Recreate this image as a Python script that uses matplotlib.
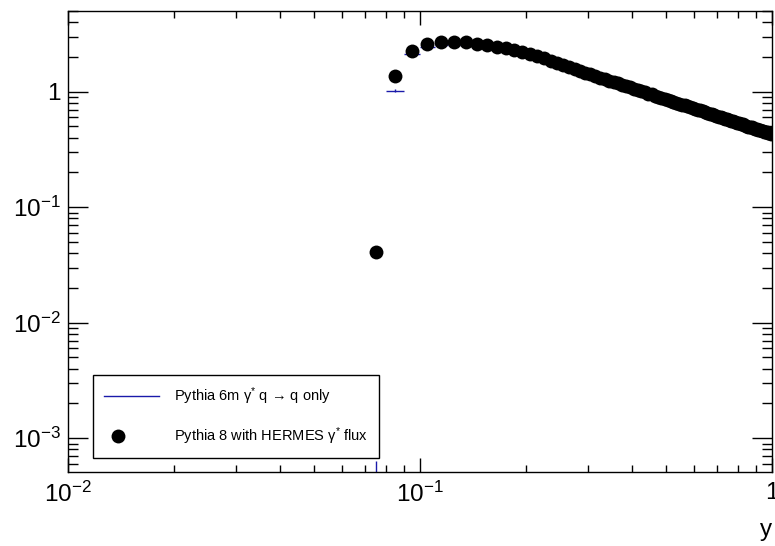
import numpy as np
import matplotlib
matplotlib.use("Agg")
import matplotlib.pyplot as plt
from matplotlib.ticker import LogLocator, FuncFormatter, NullFormatter
from matplotlib.lines import Line2D
from matplotlib.legend_handler import HandlerLine2D

plt.rcParams['font.family'] = ['Liberation Sans', 'DejaVu Sans']
plt.rcParams['mathtext.fontset'] = 'custom'
plt.rcParams['mathtext.rm'] = 'Liberation Sans'
plt.rcParams['mathtext.it'] = 'Liberation Sans:italic'
plt.rcParams['mathtext.sf'] = 'Liberation Sans'

# bin centres (bin width 0.01)
y_centers = [0.075, 0.085, 0.095, 0.105, 0.115, 0.125, 0.135, 0.145, 0.155, 0.165,
             0.175, 0.185, 0.195, 0.205, 0.215, 0.225, 0.235, 0.245, 0.255, 0.265,
             0.275, 0.285, 0.295, 0.305, 0.315, 0.325, 0.335, 0.345, 0.355, 0.365,
             0.375, 0.385, 0.395, 0.405, 0.415, 0.425, 0.435, 0.445, 0.455, 0.465,
             0.475, 0.485, 0.495, 0.505, 0.515, 0.525, 0.535, 0.545, 0.555, 0.565,
             0.575, 0.585, 0.595, 0.605, 0.615, 0.625, 0.635, 0.645, 0.655, 0.665,
             0.675, 0.685, 0.695, 0.705, 0.715, 0.725, 0.735, 0.745, 0.755, 0.765,
             0.775, 0.785, 0.795, 0.805, 0.815, 0.825, 0.835, 0.845, 0.855, 0.865,
             0.875, 0.885, 0.895, 0.905, 0.915, 0.925, 0.935, 0.945, 0.955, 0.965,
             0.975, 0.985, 0.995]
bin_half_width = 0.005

# Pythia 8 with HERMES gamma* flux (black points)
pythia8 = [0.041, 1.38, 2.24, 2.59, 2.70, 2.71, 2.68, 2.61, 2.52, 2.46,
           2.37, 2.28, 2.21, 2.12, 2.03, 1.95, 1.86, 1.79, 1.71, 1.64,
           1.57, 1.51, 1.46, 1.42, 1.37, 1.32, 1.29, 1.25, 1.21, 1.18,
           1.15, 1.12, 1.09, 1.06, 1.04, 1.01, 0.99, 0.965, 0.95, 0.925,
           0.905, 0.885, 0.87, 0.85, 0.835, 0.82, 0.805, 0.79, 0.775, 0.76,
           0.748, 0.735, 0.723, 0.71, 0.70, 0.688, 0.677, 0.667, 0.656, 0.647,
           0.637, 0.628, 0.615, 0.61, 0.601, 0.593, 0.585, 0.577, 0.57, 0.562,
           0.555, 0.548, 0.541, 0.538, 0.528, 0.521, 0.515, 0.509, 0.498, 0.497,
           0.491, 0.486, 0.48, 0.475, 0.47, 0.465, 0.46, 0.455, 0.45, 0.446,
           0.441, 0.437, 0.432]

# Pythia 6m gamma* q -> q only (blue histogram)
pythia6 = [0.0003, 1.02, 2.12, 2.44, 2.56, 2.58, 2.56, 2.50, 2.43, 2.37,
           2.29, 2.21, 2.14, 2.05, 1.96, 1.88, 1.80, 1.73, 1.65, 1.58,
           1.52, 1.46, 1.41, 1.37, 1.32, 1.28, 1.24, 1.21, 1.17, 1.14,
           1.11, 1.08, 1.05, 1.02, 1.00, 0.975, 0.955, 0.93, 0.915, 0.893,
           0.873, 0.854, 0.84, 0.82, 0.806, 0.791, 0.777, 0.762, 0.748, 0.733,
           0.722, 0.709, 0.698, 0.685, 0.675, 0.664, 0.653, 0.644, 0.633, 0.624,
           0.615, 0.606, 0.597, 0.589, 0.58, 0.572, 0.565, 0.557, 0.55, 0.542,
           0.536, 0.529, 0.522, 0.515, 0.51, 0.503, 0.497, 0.491, 0.485, 0.48,
           0.474, 0.469, 0.463, 0.458, 0.454, 0.449, 0.444, 0.439, 0.434, 0.43,
           0.426, 0.417, 0.405]
pythia6_rel_err = 0.025
first_bin_err_low = 0.00029
first_bin_err_high = 0.00034

legend_labels = ["Pythia 6m γ$^{*}$ q → q only",
                 "Pythia 8 with HERMES γ$^{*}$ flux"]
x_label = "y"

W, H = 775, 546
fig = plt.figure(figsize=(W / 100, H / 100), dpi=100)
ax = fig.add_axes([68 / W, (H - 472) / H, (772 - 68) / W, (472 - 11) / H])

x = np.array(y_centers)
b = np.array(pythia6)
err_lo = b * pythia6_rel_err
err_hi = b * pythia6_rel_err
err_lo[0] = first_bin_err_low
err_hi[0] = first_bin_err_high

blue = '#1a1aaa'
ax.errorbar(x, b, xerr=bin_half_width, yerr=[err_lo, err_hi], fmt='none',
            ecolor=blue, elinewidth=1.0, capsize=0, zorder=2)
ax.plot(x, pythia8, 'o', color='black', markersize=10, markeredgewidth=0, zorder=3)

ax.set_xscale('log')
ax.set_yscale('log')
ax.set_xlim(0.01, 1.0)
ax.set_ylim(5.1e-4, 5.0)


def fmt(v, pos):
    e = int(round(np.log10(v)))
    if e == 0:
        return "1"
    return r"$10^{%d}$" % e


for axis in (ax.xaxis, ax.yaxis):
    axis.set_major_locator(LogLocator(base=10, numticks=20))
    axis.set_minor_locator(LogLocator(base=10, subs=np.arange(2, 10), numticks=20))
    axis.set_major_formatter(FuncFormatter(fmt))
    axis.set_minor_formatter(NullFormatter())

ax.tick_params(axis='both', which='both', direction='in', top=True, right=True,
               colors='black', width=1.0, labelsize=17.5)
ax.tick_params(axis='y', which='major', length=14.4, pad=5)
ax.tick_params(axis='y', which='minor', length=7.2)
ax.tick_params(axis='x', which='major', length=10, pad=7)
ax.tick_params(axis='x', which='minor', length=5)
for s in ax.spines.values():
    s.set_linewidth(1.0)
    s.set_color('black')

ax.text(1.0, -0.125, x_label, transform=ax.transAxes, ha='right', va='center',
        fontsize=17.5)


class LeftMarkerHandler(HandlerLine2D):
    def create_artists(self, legend, orig_handle, xdescent, ydescent, width,
                       height, fontsize, trans):
        arts = super().create_artists(legend, orig_handle, xdescent, ydescent,
                                      width, height, fontsize, trans)
        for a in arts:
            a.set_markevery(None)
            a.set_data([width * 0.25 - xdescent], [(height - ydescent) / 2])
        return arts


handles = [Line2D([], [], color=blue, lw=1.0),
           Line2D([], [], marker='o', color='black', linestyle='none',
                  markersize=10, markeredgewidth=0)]
leg = ax.legend(handles, legend_labels, loc='lower left',
                bbox_to_anchor=((93 - 68) / 704, (472 - 458) / 461),
                borderaxespad=0, fontsize=10.5, frameon=True, fancybox=False,
                edgecolor='black', framealpha=1, handlelength=3.8,
                handletextpad=1.0, labelspacing=1.25, borderpad=0.75,
                handler_map={handles[1]: LeftMarkerHandler()})
leg.get_frame().set_linewidth(1.0)

fig.savefig("out.png", dpi=100)
